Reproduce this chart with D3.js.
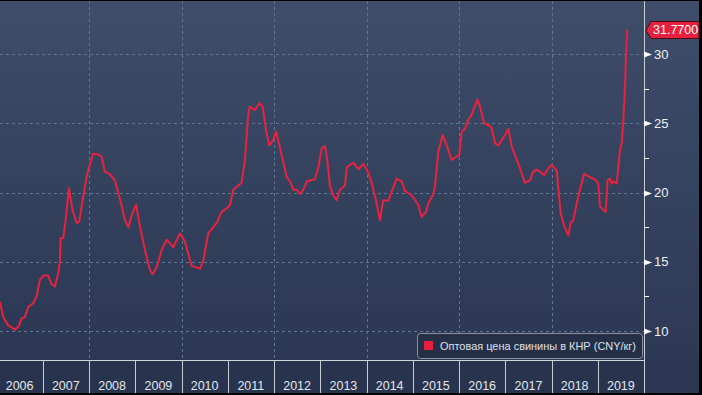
<!DOCTYPE html>
<html><head><meta charset="utf-8">
<script src="https://cdn.jsdelivr.net/npm/d3@7"></script>
<style>html,body{margin:0;padding:0;background:#000;}svg{display:block;}</style>
</head><body>
<script>
const dates = ["2006-01-28","2006-02-24","2006-04-04","2006-05-27","2006-06-22","2006-07-18","2006-08-13","2006-09-09","2006-10-18","2006-11-14","2006-12-10",
"2007-01-05","2007-02-13","2007-03-12","2007-04-07","2007-05-04","2007-05-17","2007-05-22","2007-06-12","2007-07-01","2007-07-27","2007-08-25","2007-09-26","2007-10-16","2007-11-17","2007-12-13",
"2008-01-08","2008-02-03","2008-03-14","2008-04-10","2008-05-06","2008-06-15","2008-07-25","2008-09-03","2008-10-12","2008-11-07","2008-12-04",
"2009-01-07","2009-02-08","2009-03-18","2009-04-27","2009-05-18","2009-06-19","2009-07-28","2009-09-06","2009-10-28","2009-12-20",
"2010-01-28","2010-03-22","2010-05-27","2010-06-22","2010-07-31","2010-10-06","2010-11-14","2010-12-24",
"2011-01-19","2011-02-14","2011-03-25","2011-04-20","2011-05-17","2011-06-12","2011-06-25","2011-08-04","2011-09-07","2011-10-04","2011-10-30","2011-11-25","2011-12-26",
"2012-01-17","2012-03-02","2012-04-11","2012-05-07","2012-06-02","2012-06-29","2012-07-25","2012-08-20","2012-09-16","2012-10-25","2012-11-20","2012-12-16",
"2013-01-12","2013-02-07","2013-02-25","2013-03-18","2013-04-13","2013-05-10","2013-06-05","2013-07-15","2013-07-28","2013-08-23","2013-09-18","2013-10-28","2013-12-06",
"2014-01-02","2014-02-11","2014-03-22","2014-04-17","2014-05-13","2014-06-22","2014-07-18","2014-08-27","2014-10-06","2014-11-01","2014-12-24",
"2015-02-14","2015-03-12","2015-04-15","2015-05-04","2015-06-08","2015-06-25","2015-07-22","2015-08-25","2015-09-26","2015-11-04","2015-12-13",
"2016-01-03","2016-01-22","2016-02-17","2016-03-14","2016-04-10","2016-05-25","2016-06-15","2016-07-17","2016-09-03","2016-09-16","2016-10-12","2016-11-07","2016-12-04","2016-12-30",
"2017-01-25","2017-02-21","2017-04-01","2017-04-27","2017-06-05","2017-07-15","2017-08-10","2017-09-06","2017-10-02","2017-11-03","2017-12-07",
"2018-01-02","2018-02-11","2018-02-24","2018-03-14","2018-04-09","2018-05-13","2018-06-01","2018-06-22","2018-07-18","2018-08-13","2018-09-16","2018-11-01","2018-12-10",
"2019-01-05","2019-01-18","2019-02-14","2019-03-04","2019-03-20","2019-04-07","2019-04-20","2019-05-03","2019-05-30","2019-06-12","2019-06-25","2019-07-09","2019-07-22","2019-08-04","2019-08-12","2019-08-22"];
const prices = [12.1,11.0,10.4,10.1,10.3,10.9,11.0,11.75,12.0,12.5,13.7,
14.0,14.0,13.4,13.2,14.2,15.1,16.7,16.7,18.0,20.3,18.7,17.8,17.9,19.7,21.1,
22.0,22.8,22.75,22.6,21.5,21.3,20.85,19.5,18.0,17.5,18.4,
19.1,17.5,15.85,14.4,14.1,14.6,15.85,16.6,16.05,17.05,
16.45,14.7,14.5,15.1,17.05,17.8,18.6,18.85,
19.1,20.2,20.5,20.7,22.35,25.7,26.2,25.95,26.45,26.2,24.5,23.4,23.8,
24.4,22.7,21.1,20.8,20.2,20.2,19.9,20.2,20.8,20.9,20.95,21.8,
23.2,23.35,22.35,20.5,19.8,19.45,20.2,20.5,21.8,22.0,22.15,21.7,22.05,
21.7,20.7,19.2,18.0,19.45,19.4,20.05,21.0,20.8,20.1,19.8,
19.1,18.25,18.6,19.2,19.8,20.4,22.95,24.15,23.4,22.35,22.6,
22.7,24.4,24.6,25.25,25.6,26.7,26.2,25.0,24.8,24.6,23.55,23.4,23.8,24.15,
24.6,23.3,22.35,21.75,20.7,20.9,21.5,21.65,21.5,21.25,21.75,
22.0,21.6,20.2,18.5,17.65,16.9,17.8,18.0,19.2,20.2,21.35,21.1,20.95,
20.65,19.0,18.75,18.6,20.9,21.0,20.65,20.8,20.65,21.85,23.05,23.55,25.25,27.65,30.05,31.77];
const yearLabels = ["2006","2007","2008","2009","2010","2011","2012","2013","2014","2015","2016","2017","2018","2019"];
const yMajorTicks = [10,15,20,25,30];
const yMinorTicks = [12.5,17.5,22.5,27.5];
const gridYears = ["2008","2010","2012","2014","2016","2018"];
const lastLabel = "31.7700";
const legendLabel = "Оптовая цена свинины в КНР (CNY/кг)";

const W = 702, H = 395;
const plotRight = 644, axisTop = 360, frameBottom = 393, frameRight = 699;
const parse = d3.timeParse("%Y-%m-%d");
const data = dates.map((d,i)=>({date: parse(d), value: prices[i]}));

const x = d3.scaleTime().domain([new Date(2006,0,1), new Date(2020,0,1)]).range([-3.5, plotRight]);
const y = d3.scaleLinear().domain([10,30]).range([331,54]);

const svg = d3.select("body").append("svg").attr("width",W).attr("height",H);
const defs = svg.append("defs");
const g1 = defs.append("linearGradient").attr("id","bg").attr("x1",0).attr("y1",0).attr("x2",0).attr("y2",1);
g1.append("stop").attr("offset","0%").attr("stop-color","#3f4d6a");
g1.append("stop").attr("offset","100%").attr("stop-color","#2b3753");
defs.append("clipPath").attr("id","clip").append("rect").attr("x",0).attr("y",1).attr("width",plotRight).attr("height",axisTop-1);

svg.append("rect").attr("width",W).attr("height",H).attr("fill","#000");
svg.append("rect").attr("x",0).attr("y",1).attr("width",frameRight).attr("height",axisTop-1).attr("fill","url(#bg)");
svg.append("rect").attr("x",plotRight).attr("y",1).attr("width",frameRight-plotRight).attr("height",frameBottom-1).attr("fill","url(#bg)");
// x axis band
svg.append("rect").attr("x",0).attr("y",axisTop).attr("width",plotRight).attr("height",frameBottom-axisTop).attr("fill","#28334e");
svg.append("rect").attr("x",plotRight).attr("y",axisTop).attr("width",frameRight-plotRight).attr("height",frameBottom-axisTop).attr("fill","#2b3753");

// gridlines
const grid = svg.append("g").attr("stroke","#5f7594").attr("stroke-width",1).attr("stroke-dasharray","3,3");
grid.selectAll("line.h").data(yMajorTicks).enter().append("line")
  .attr("x1",0).attr("x2",plotRight).attr("y1",d=>Math.round(y(d))+0.5).attr("y2",d=>Math.round(y(d))+0.5);
grid.selectAll("line.v").data(gridYears).enter().append("line")
  .attr("x1",d=>Math.round(x(new Date(+d,0,1)))+0.5).attr("x2",d=>Math.round(x(new Date(+d,0,1)))+0.5)
  .attr("y1",1).attr("y2",axisTop);

// line
const line = d3.line().x(d=>x(d.date)).y(d=>y(d.value)).curve(d3.curveLinear);
svg.append("path").datum(data).attr("clip-path","url(#clip)").attr("d",line)
  .attr("fill","none").attr("stroke","#e8223f").attr("stroke-width",2).attr("stroke-linejoin","round");

// x axis
svg.append("line").attr("x1",0).attr("x2",plotRight).attr("y1",axisTop+0.5).attr("y2",axisTop+0.5).attr("stroke","#d0d4dc");
const years = yearLabels.map(s=>+s);
svg.append("g").selectAll("line").data(years.concat([2020]).filter(yv=>yv>2006)).enter().append("line")
  .attr("x1",d=>Math.round(x(new Date(d,0,1)))+0.5).attr("x2",d=>Math.round(x(new Date(d,0,1)))+0.5)
  .attr("y1",axisTop).attr("y2",frameBottom).attr("stroke","#c8cdd6").attr("stroke-width",1);
svg.append("g").selectAll("text").data(yearLabels).enter().append("text")
  .attr("x",d=>(x(new Date(+d,0,1))+x(new Date(+d+1,0,1)))/2).attr("y",390)
  .attr("text-anchor","middle").attr("fill","#e4e7ec")
  .style("font-family","'Liberation Sans', Arial, sans-serif").style("font-size","12.5px").text(d=>d);

// y axis
svg.append("line").attr("x1",plotRight+0.5).attr("x2",plotRight+0.5).attr("y1",1).attr("y2",frameBottom).attr("stroke","#c8cdd6");
const ya = svg.append("g");
ya.selectAll("path").data(yMajorTicks).enter().append("path")
  .attr("d",d=>{const yy=Math.round(y(d))+0.5;return `M${plotRight},${yy-3}L${plotRight+8},${yy}L${plotRight},${yy+3}Z`;})
  .attr("fill","#ffffff");
ya.selectAll("line").data(yMinorTicks).enter().append("line")
  .attr("x1",plotRight).attr("x2",plotRight+5).attr("y1",d=>Math.round(y(d))+0.5).attr("y2",d=>Math.round(y(d))+0.5)
  .attr("stroke","#ffffff");
ya.selectAll("text").data(yMajorTicks).enter().append("text")
  .attr("x",654).attr("y",d=>y(d)).attr("dy","0.36em").attr("fill","#eef0f4")
  .style("font-family","'Liberation Sans', Arial, sans-serif").style("font-size","13px").text(d=>d);

// last value label
const lastY = y(prices[prices.length-1]);
svg.append("path")
  .attr("d",`M${plotRight+2},${lastY+1}L${plotRight+7},${lastY-8}L${frameRight},${lastY-8}L${frameRight},${lastY+9}L${plotRight+7},${lastY+9}Z`)
  .attr("fill","#e8203f").attr("stroke","#4a0c16").attr("stroke-width",1);
svg.append("text").attr("x",653).attr("y",lastY+0.5).attr("dy","0.36em").attr("fill","#ffffff")
  .style("font-family","'Liberation Sans', Arial, sans-serif").style("font-size","12.5px").text(lastLabel);

// legend
const lg = svg.append("g");
lg.append("rect").attr("x",417.5).attr("y",333.5).attr("width",225).attr("height",25).attr("rx",3)
  .attr("fill","#252f47").attr("stroke","#8a92a2").attr("stroke-width",1);
lg.append("rect").attr("x",424).attr("y",341).attr("width",9).attr("height",9).attr("fill","#e8203f");
lg.append("text").attr("x",440).attr("y",349.5).attr("fill","#dde1e8")
  .style("font-family","'Liberation Sans', Arial, sans-serif").style("font-size","11px")
  .attr("textLength",196).attr("lengthAdjust","spacingAndGlyphs").text(legendLabel);
</script>
</body></html>
